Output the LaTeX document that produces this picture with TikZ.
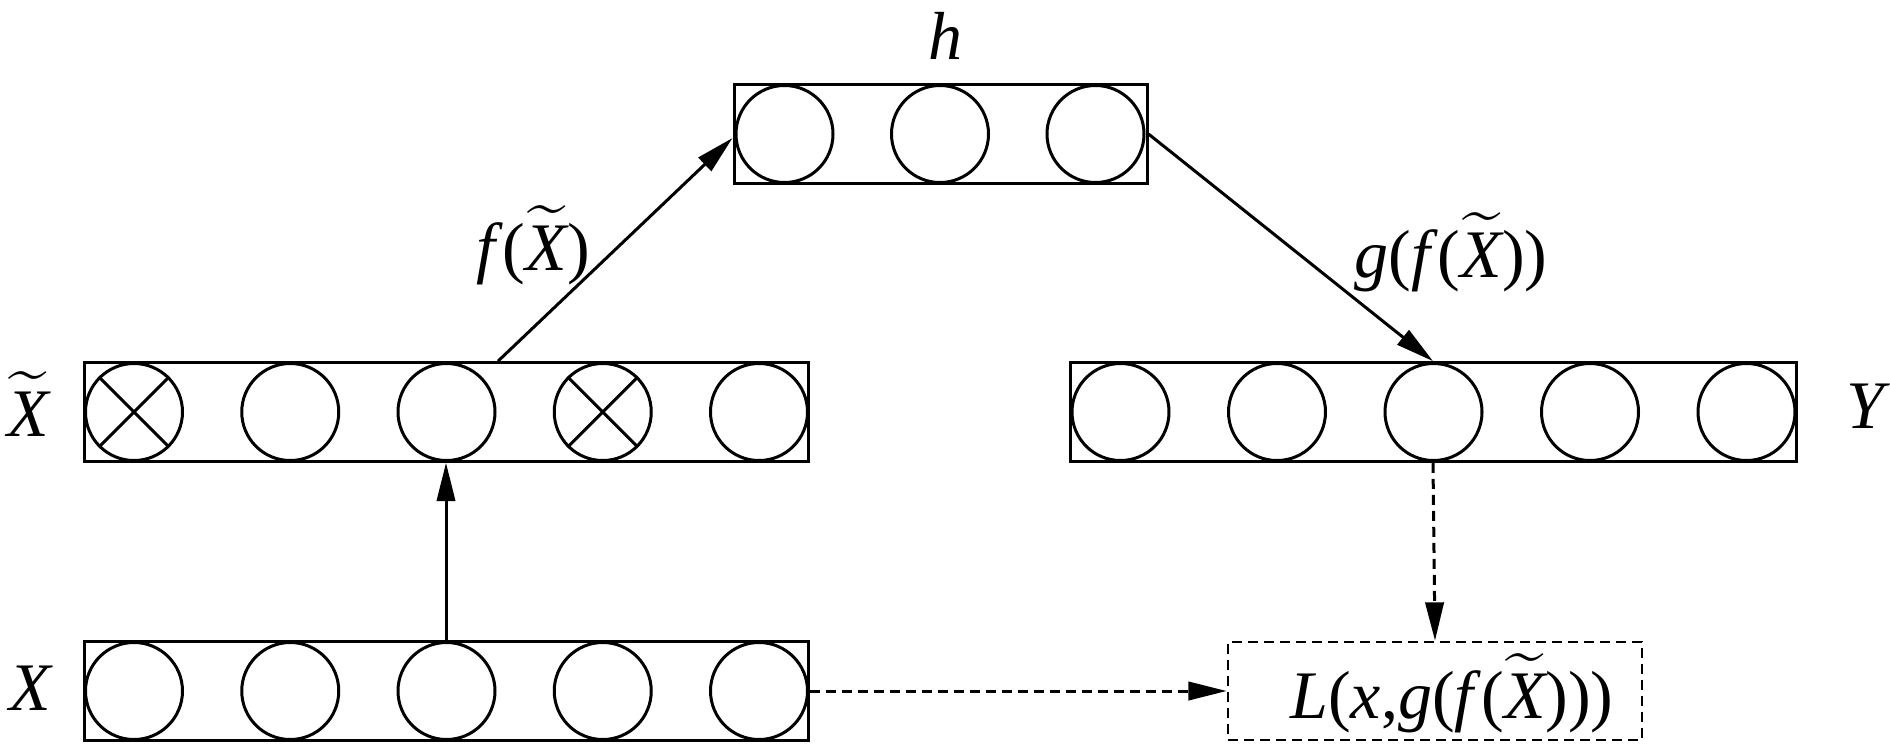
\documentclass[tikz,border=0pt]{standalone}
\usepackage{fontspec}
\setmainfont{Liberation Serif}
\usepackage{exscale}
\usetikzlibrary{arrows.meta,calc}
\newcommand{\Xt}{\ensuremath{\widetilde{\mbox{\itshape X}}}}
\begin{document}
\begin{tikzpicture}[x=0.3pt,y=-0.3pt,
  unit/.style={circle,draw,line width=0.9pt,minimum size=29.1pt,inner sep=0pt},
  layer/.style={draw,line width=0.9pt,minimum height=29.6pt,inner sep=0pt},
  lbl/.style={font=\fontsize{20.4}{24}\selectfont,inner sep=0pt},
  arr/.style={line width=0.9pt,-{Triangle[length=11.5pt,width=5.5pt]}},
  darr/.style={arr,dash pattern=on 3pt off 1.8pt},
  crossline/.style={line width=0.9pt}
]
\useasboundingbox (0,0) rectangle (1890,744);
% layers
\node[layer,minimum width=217.2pt] (xtbox) at (446,412) {};
\node[layer,minimum width=217.8pt] (ybox) at (1433,412) {};
\node[layer,minimum width=217.2pt] (xbox) at (446,691) {};
\node[layer,minimum width=123.9pt] (hbox) at (940.5,134) {};
\node[draw,line width=0.8pt,dash pattern=on 3pt off 1.8pt,minimum width=124.2pt,minimum height=29.4pt,inner sep=0pt] (loss) at (1435,691) {};
% units
\foreach \i in {1,...,5} {
  \node[unit] (xt\i) at ({134+156.25*(\i-1)},412) {};
  \node[unit] (x\i) at ({134+156.25*(\i-1)},691) {};
  \node[unit] (y\i) at ({1120.5+156.5*(\i-1)},412) {};
}
\foreach \i in {1,2,3} {
  \node[unit] (h\i) at ({784.5+155.5*(\i-1)},134) {};
}
\draw[crossline] (xt1.45) -- (xt1.225) (xt1.135) -- (xt1.315);
\draw[crossline] (xt4.45) -- (xt4.225) (xt4.135) -- (xt4.315);
% labels
\node[lbl] (lxt) at (28,404) {\Xt};
\node[lbl] (lx) at (31,688) {\textit{X}};
\node[lbl] (ly) at (1868,406) {\textit{Y}};
\node[lbl] (lh) at (945,36) {\textit{h}};
\node[lbl] (lf) at (533,245) {\textit{f}(\Xt)};
\node[lbl] (lg) at (1451,252) {\textit{g}(\textit{f}(\Xt))};
\node[lbl] (ll) at (1452,693) {\textit{L}(\textit{x},\textit{g}(\textit{f}(\Xt)))};
% connectors
\coordinate (fstart) at ($(xtbox.north)+(52,0)$);
\draw[arr] (xbox.north) -- (xtbox.south);
\draw[arr] (fstart) -- ($(hbox.west)+(0,4)$);
\draw[arr] (hbox.east) -- (ybox.north);
\draw[darr] (ybox.south) -- (loss.north);
\draw[darr] (xbox.east) -- (loss.west);
\end{tikzpicture}
\end{document}
